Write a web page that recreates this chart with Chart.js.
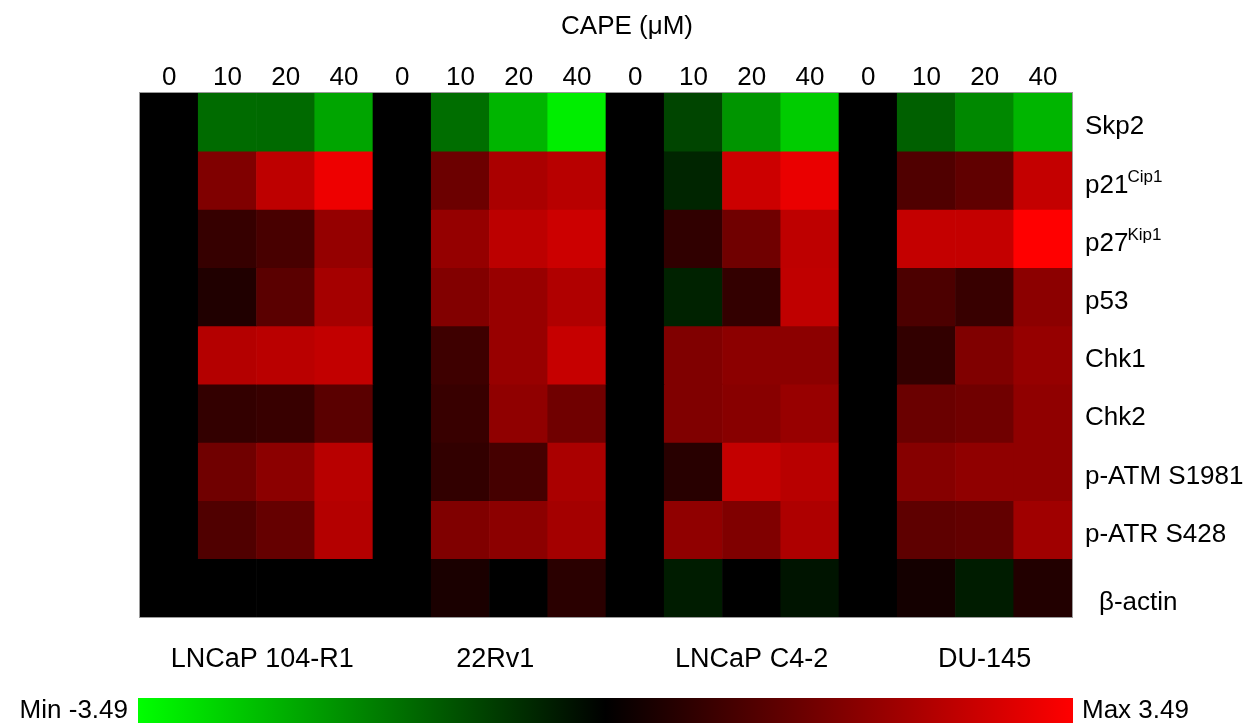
<!DOCTYPE html>
<html>
<head>
<meta charset="utf-8">
<script src="https://cdn.jsdelivr.net/npm/chart.js@4"></script>
<style>
  body { margin: 0; background: #fff; }
  #wrap { width: 1251px; height: 723px; }
</style>
</head>
<body>
<div id="wrap"><canvas id="heat"></canvas></div>
<script>
// doses (CAPE, uM) repeated for each cell line
let doses = ["0", "10", "20", "40"];
let cellLines = ["LNCaP 104-R1", "22Rv1", "LNCaP C4-2", "DU-145"];
let proteins = ["Skp2", "p21", "p27", "p53", "Chk1", "Chk2", "p-ATM S1981", "p-ATR S428", "β-actin"];
let supers = ["", "Cip1", "Kip1", "", "", "", "", "", ""];

// log ratio values, 4 doses x 4 cell lines per row
let skp2   = [0, -1.46, -1.45, -2.26,  0, -1.51, -2.48, -3.26,  0, -0.94, -2.04, -2.79,  0, -1.31, -1.86, -2.48];
let p21    = [0,  1.75,  2.60,  3.26,  0,  1.48,  2.33,  2.52,  0, -0.51,  2.79,  3.20,  0,  1.09,  1.31,  2.68];
let p27    = [0,  0.74,  0.99,  2.04,  0,  2.04,  2.57,  2.79,  0,  0.66,  1.53,  2.60,  0,  2.68,  2.68,  3.49];
let p53    = [0,  0.44,  1.23,  2.26,  0,  1.78,  2.08,  2.41,  0, -0.47,  0.70,  2.63,  0,  1.04,  0.77,  1.92];
let chk1   = [0,  2.46,  2.55,  2.66,  0,  0.85,  2.08,  2.71,  0,  1.75,  1.92,  1.92,  0,  0.68,  1.75,  2.05];
let chk2   = [0,  0.70,  0.77,  1.23,  0,  0.77,  1.97,  1.53,  0,  1.75,  1.86,  2.08,  0,  1.45,  1.53,  1.97];
let pAtm   = [0,  1.53,  1.92,  2.52,  0,  0.68,  0.94,  2.33,  0,  0.55,  2.68,  2.52,  0,  1.83,  1.97,  1.97];
let pAtr   = [0,  1.09,  1.38,  2.46,  0,  1.75,  1.92,  2.24,  0,  1.97,  1.75,  2.38,  0,  1.29,  1.34,  2.19];
let bActin = [0,  0,     0,     0,     0,  0.36,  0,     0.57,  0, -0.38,  0,    -0.27,  0,  0.27, -0.38,  0.47];

let rows = [skp2, p21, p27, p53, chk1, chk2, pAtm, pAtr, bActin];
let vMax = 3.49;

function heatColor(v) {
    let c = Math.round(255 * Math.min(Math.abs(v), vMax) / vMax);
    return v >= 0 ? "rgb(" + c + ",0,0)" : "rgb(0," + c + ",0)";
}

let columns = [];
cellLines.forEach(() => doses.forEach(d => columns.push(d)));

let datasets = rows.map((vals, i) => ({
    label: proteins[i],
    data: vals.map(() => [i, i + 1]),
    backgroundColor: vals.map(heatColor),
    borderWidth: 0,
    barPercentage: 1,
    categoryPercentage: 1
}));

let font = "'Liberation Sans', Arial, sans-serif";
Chart.defaults.font.family = font;

let extras = {
    id: "extras",
    afterDraw(chart) {
        let ctx = chart.ctx;
        let area = chart.chartArea;
        let x = chart.scales.x, y = chart.scales.y;
        ctx.save();

        // frame
        ctx.strokeStyle = "#9a9a9a";
        ctx.lineWidth = 1;
        ctx.strokeRect(area.left - 0.5, area.top - 0.5, area.right - area.left + 1, area.bottom - area.top + 1);

        ctx.fillStyle = "#000";
        ctx.textBaseline = "middle";

        // title
        ctx.font = "26px " + font;
        ctx.textAlign = "center";
        ctx.fillText("CAPE (\u03BCM)", 627, 27);

        // row labels with superscripts
        ctx.textAlign = "left";
        proteins.forEach((p, i) => {
            let py = y.getPixelForValue(i + 0.5) + 5;
            let px = area.right + 13;
            if (i == proteins.length - 1) { px += 14; py += 10; }
            ctx.font = "26px " + font;
            ctx.fillText(p, px, py);
            if (supers[i]) {
                let w = ctx.measureText(p).width;
                ctx.font = "17px " + font;
                ctx.fillText(supers[i], px + w - 1, py - 8);
            }
        });

        // cell line labels under each group
        let labelPos = [2.1, 6.1, 10.5, 14.5];
        ctx.font = "27px " + font;
        ctx.textAlign = "center";
        cellLines.forEach((c, i) => {
            let px = x.left + (x.right - x.left) * labelPos[i] / columns.length;
            ctx.fillText(c, px, 660);
        });

        // colour key
        let kx0 = area.left - 2, kx1 = area.right + 1;
        let g = ctx.createLinearGradient(kx0, 0, kx1, 0);
        g.addColorStop(0, heatColor(-vMax));
        g.addColorStop(0.5, "#000");
        g.addColorStop(1, heatColor(vMax));
        ctx.fillStyle = g;
        ctx.fillRect(kx0, 698, kx1 - kx0, 30);
        ctx.fillStyle = "#000";
        ctx.font = "26px " + font;
        ctx.textAlign = "right";
        ctx.fillText("Min -" + vMax.toFixed(2), kx0 - 10, 711);
        ctx.textAlign = "left";
        ctx.fillText("Max " + vMax.toFixed(2), kx1 + 9, 711);
        ctx.restore();
    }
};

new Chart(document.getElementById("heat"), {
    type: "bar",
    data: { labels: columns, datasets: datasets },
    options: {
        responsive: true,
        maintainAspectRatio: false,
        animation: false,
        layout: { padding: { top: 50, left: 140, right: 179, bottom: 106 } },
        plugins: { legend: { display: false }, tooltip: { enabled: false } },
        scales: {
            x: {
                position: "top",
                stacked: false,
                grid: { display: false, drawTicks: false },
                border: { display: false },
                ticks: { color: "#000", font: { size: 26 }, padding: 0, maxRotation: 0, autoSkip: false },
                afterFit: s => { s.height = 43; }
            },
            y: {
                type: "linear",
                min: 0,
                max: rows.length,
                reverse: true,
                display: false
            }
        },
        datasets: { bar: { grouped: false } }
    },
    plugins: [extras]
});
</script>
</body>
</html>
